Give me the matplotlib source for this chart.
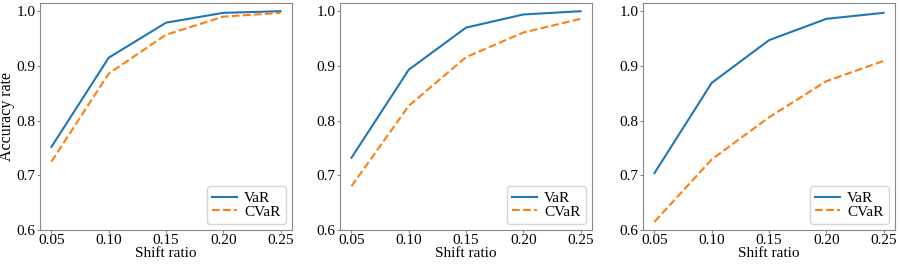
import matplotlib
matplotlib.use("Agg")
import matplotlib.pyplot as plt

plt.rcParams['font.family'] = ['Liberation Serif', 'DejaVu Serif']
plt.rcParams['mathtext.fontset'] = 'stix'

shift = [0.05, 0.10, 0.15, 0.20, 0.25]

var_1 = [0.752, 0.915, 0.979, 0.997, 1.000]
cvar_1 = [0.725, 0.886, 0.957, 0.990, 0.997]

var_2 = [0.732, 0.893, 0.970, 0.994, 1.000]
cvar_2 = [0.680, 0.827, 0.916, 0.961, 0.986]

var_3 = [0.704, 0.869, 0.947, 0.986, 0.997]
cvar_3 = [0.615, 0.729, 0.806, 0.872, 0.909]

xticks = [0.05, 0.10, 0.15, 0.20, 0.25]
yticks = [0.6, 0.7, 0.8, 0.9, 1.0]

fig = plt.figure(figsize=(9, 2.66), dpi=100)
lefts = [40, 340, 643]
width = 252
panels = [(var_1, cvar_1), (var_2, cvar_2), (var_3, cvar_3)]

for i, (v, c) in enumerate(panels):
    ax = fig.add_axes([lefts[i] / 900, 36 / 266, width / 900, 227 / 266])
    ax.plot(shift, v, color='#1f77b4', lw=1.5, label='VaR')
    ax.plot(shift, c, color='#ff7f0e', lw=1.5, ls='--', label='CVaR')
    ax.set_ylim(0.6, 1.015)
    ax.set_xticks(xticks)
    ax.set_xticklabels(['%.2f' % t for t in xticks])
    ax.set_yticks(yticks)
    ax.set_yticklabels(['%.1f' % t for t in yticks])
    ax.tick_params(labelsize=11, length=2, pad=1, color='#888888')
    for s in ax.spines.values():
        s.set_color('#888888')
    ax.set_xlabel('Shift ratio', fontsize=11, labelpad=0)
    if i == 0:
        ax.set_ylabel('Accuracy rate', fontsize=11.5, labelpad=1.5)
    ax.legend(loc='lower right', fontsize=11, handlelength=1.6, borderpad=0.35,
              labelspacing=0.0, handletextpad=0.5, borderaxespad=0.4)

fig.savefig('out.png', dpi=100)
